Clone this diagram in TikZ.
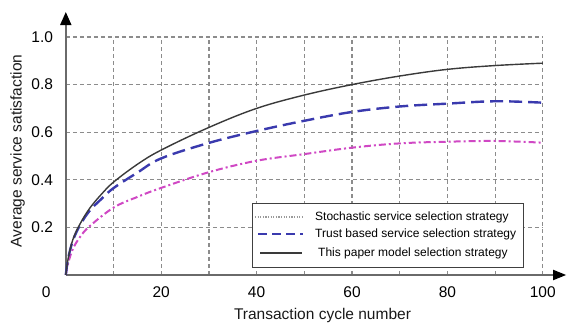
\documentclass[tikz,border=0pt]{standalone}
\usepackage{fontspec}
\setmainfont{Liberation Sans}
\usetikzlibrary{arrows.meta}

\definecolor{axisgray}{HTML}{6A6A6A}
\definecolor{gridgray}{HTML}{8C8C8C}
\definecolor{curveblack}{HTML}{3A3A3A}
\definecolor{curveblue}{HTML}{3A3AAE}
\definecolor{curvemagenta}{HTML}{D048C4}
\definecolor{legendgray}{HTML}{9A9A9A}

\tikzset{
  gridline/.style={gridgray, line width=1.2pt, dash pattern=on 4pt off 3pt},
  axisline/.style={axisgray, line width=1.8pt},
  ourcurve/.style={curveblack, line width=1.4pt},
  trustcurve/.style={curveblue, line width=2.4pt, dash pattern=on 13pt off 6pt},
  randcurve/.style={curvemagenta, line width=2pt, dash pattern=on 7pt off 3pt on 2pt off 3pt},
  randlegend/.style={legendgray, line width=1.3pt, dash pattern=on 1.2pt off 1.4pt},
  ticklabel/.style={font=\fontsize{15.5}{17}\selectfont, text=black, inner sep=0pt},
  legendtext/.style={font=\fontsize{12}{14}\selectfont, anchor=west, inner sep=0pt, text=black},
  axistitle/.style={font=\fontsize{15.5}{17}\selectfont, inner sep=0pt, text=black!90},
}

\begin{document}
\begin{tikzpicture}[x=1pt, y=1pt]
  \useasboundingbox (0,0) rectangle (567,323);

  % data frame: x in cycles, y in satisfaction
  \begin{scope}[shift={(65.8,48)}, x=4.77pt, y=238pt]
    % grid
    \foreach \gy in {0.2,0.4,0.6,0.8,1.0}
      \draw[gridline] (0,\gy) -- (100,\gy);
    \foreach \gx in {10,20,...,100}
      \draw[gridline] (\gx,0) -- (\gx,1);

    % axes
    \coordinate (orig) at (0,0);
    \coordinate (xend) at (104.9,0);
    \coordinate (yend) at (0,1.105);
    \draw[axisline, -{Triangle[length=13pt, width=10pt, color=black]}] (orig) -- (xend);
    \draw[axisline, -{Triangle[length=13pt, width=11pt, color=black]}] (orig) -- (yend);

    % tick labels
    \foreach \gy in {0.2,0.4,0.6,0.8,1.0}
      \node[ticklabel, anchor=east] (yl\gy) at (-2.65,\gy) {\gy};
    \node[ticklabel] (xl0) at (-4.1,-0.072) {0};
    \foreach \gx in {20,40,60,80,100}
      \node[ticklabel] (xl\gx) at (\gx,-0.072) {\gx};

    % curves
    \draw[randcurve] plot[smooth, tension=0.6] coordinates {
      (0,0) (0.5,0.05) (1.5,0.11) (3,0.16) (5,0.205) (10,0.283)
      (15,0.328) (20,0.366) (30,0.432) (40,0.48) (50,0.508) (60,0.535)
      (70,0.553) (80,0.56) (90,0.563) (100,0.556)};
    \draw[trustcurve] plot[smooth, tension=0.6] coordinates {
      (0,0) (0.5,0.07) (1.5,0.145) (3,0.21) (5,0.27) (7.5,0.32) (10,0.365)
      (15,0.43) (20,0.49) (30,0.555) (40,0.605) (50,0.648) (60,0.685)
      (70,0.708) (80,0.72) (90,0.73) (100,0.724)};
    \draw[ourcurve] plot[smooth, tension=0.6] coordinates {
      (0,0) (0.5,0.07) (1.5,0.15) (3,0.215) (5,0.28) (7.5,0.34) (10,0.39)
      (15,0.465) (20,0.525) (30,0.62) (40,0.70) (50,0.756) (60,0.80)
      (70,0.836) (80,0.864) (90,0.88) (100,0.89)};
  \end{scope}

  % axis titles
  \node[axistitle, anchor=base] (xtitle) at (322.5,3) {Transaction cycle number};
  \node[axistitle, anchor=base, rotate=90] (ytitle) at (21.5,172) {Average service satisfaction};

  % legend
  \node[draw=black!75, line width=1.1pt, fill=white, minimum width=271pt, minimum height=64pt,
        inner sep=0pt, anchor=north west] (legend) at (252,120) {};
  \coordinate (l1a) at (255,106); \coordinate (l1b) at (302,106);
  \coordinate (l2a) at (258,89);  \coordinate (l2b) at (303,89);
  \coordinate (l3a) at (260,70);  \coordinate (l3b) at (302,70);
  \draw[randlegend] (l1a) -- (l1b);
  \draw[curveblue, line width=2.2pt, dash pattern=on 9pt off 5pt] (l2a) -- (l2b);
  \draw[curveblack, line width=1.3pt] (l3a) -- (l3b);
  \node[legendtext] (t1) at (315,106) {Stochastic service selection strategy};
  \node[legendtext] (t2) at (315,89) {Trust based service selection strategy};
  \node[legendtext] (t3) at (318,70) {This paper model selection strategy};
\end{tikzpicture}
\end{document}
